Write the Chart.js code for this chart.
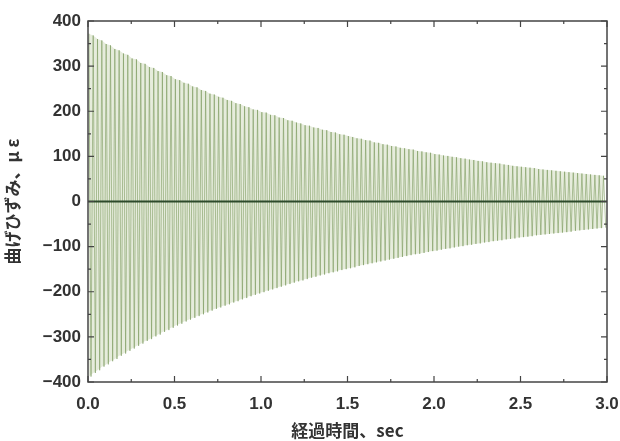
<!DOCTYPE html>
<html>
<head>
<meta charset="utf-8">
<script src="https://cdn.jsdelivr.net/npm/chart.js@4.4.1/dist/chart.umd.min.js"></script>
<style>
  html, body { margin: 0; padding: 0; background: #fff; }
  #wrap { width: 620px; height: 441px; }
</style>
</head>
<body>
<div id="wrap"><canvas id="myChart" width="620" height="441"></canvas></div>
<script>
// peak / trough of each cycle (micro strain)
const peaks = [372, 368, 360, 357, 349, 346, 338, 335, 328, 325,
    317, 315, 307, 305, 298, 296, 289, 287, 280, 278,
    271, 269, 263, 261, 255, 253, 247, 245, 239, 237,
    232, 230, 225, 223, 218, 216, 211, 209, 204, 203,
    198, 197, 192, 191, 186, 185, 180, 179, 175, 173,
    169, 168, 164, 163, 159, 158, 154, 153, 149, 148,
    145, 143, 140, 139, 136, 135, 131, 130, 127, 126,
    123, 122, 119, 118, 116, 115, 112, 111, 109, 108,
    105, 104, 102, 101, 99, 98, 96, 95, 93, 92,
    90, 89, 87, 86, 85, 84, 82, 81, 79, 78,
    77, 76, 75, 74, 72, 71, 70, 69, 68, 67,
    66, 65, 64, 63, 62, 61, 60, 59, 58, 57]
const troughs = [-388, -380, -374, -366, -361, -354, -349, -342, -337, -331,
    -326, -320, -315, -309, -305, -299, -295, -289, -285, -280,
    -275, -271, -266, -262, -258, -254, -250, -246, -242, -238,
    -235, -231, -228, -224, -221, -217, -214, -210, -207, -204,
    -201, -198, -195, -192, -189, -186, -183, -180, -177, -175,
    -172, -169, -167, -164, -162, -159, -157, -155, -152, -150,
    -148, -146, -143, -141, -139, -137, -135, -133, -131, -129,
    -127, -125, -123, -121, -119, -117, -116, -114, -112, -110,
    -109, -107, -105, -104, -102, -100, -99, -97, -96, -94,
    -93, -91, -90, -88, -87, -86, -84, -83, -82, -80,
    -79, -78, -77, -75, -74, -73, -72, -71, -70, -69,
    -68, -67, -65, -64, -63, -62, -61, -60, -59, -58]

const firstPeakTime = 0.005   // sec
const cyclePeriod = 0.025     // sec, time between peaks
const baseTimes = [0, 3.0]
const baseValues = [0, 0]

const xTickLabels = ['0.0', '0.5', '1.0', '1.5', '2.0', '2.5', '3.0']
const yTickLabels = ['-400', '-300', '-200', '-100', '0', '100', '200', '300', '400']

// build point lists for the library
let wave = []
let upper = []
let lower = []
for (let i = 0; i < peaks.length; i++) {
    let tp = firstPeakTime + i * cyclePeriod
    let tt = tp + cyclePeriod / 2
    wave.push({ x: tp, y: peaks[i] })
    wave.push({ x: tt, y: troughs[i] })
    upper.push({ x: tp, y: peaks[i] })
    lower.push({ x: tp, y: troughs[i] })
}
let base = baseTimes.map((t, i) => ({ x: t, y: baseValues[i] }))

// frame + inward ticks on all four sides
const framePlugin = {
    id: 'frame',
    afterDatasetsDraw(chart) {
        const ctx = chart.ctx
        const a = chart.chartArea
        const xs = chart.scales.x
        const ys = chart.scales.y
        ctx.save()
        ctx.strokeStyle = '#444'
        ctx.lineWidth = 1.5
        ctx.strokeRect(a.left, a.top, a.right - a.left, a.bottom - a.top)
        ctx.lineWidth = 1.2
        for (let v = 0; v <= 3.0001; v += 0.25) {
            let px = xs.getPixelForValue(v)
            let len = (Math.round(v * 4) % 2 === 0) ? 6 : 3
            ctx.beginPath()
            ctx.moveTo(px, a.bottom); ctx.lineTo(px, a.bottom - len)
            ctx.moveTo(px, a.top); ctx.lineTo(px, a.top + len)
            ctx.stroke()
        }
        for (let v = -400; v <= 400; v += 50) {
            let py = ys.getPixelForValue(v)
            let len = (v % 100 === 0) ? 6 : 3
            ctx.beginPath()
            ctx.moveTo(a.left, py); ctx.lineTo(a.left + len, py)
            ctx.moveTo(a.right, py); ctx.lineTo(a.right - len, py)
            ctx.stroke()
        }
        ctx.restore()
    }
}

const tickFont = { family: 'Liberation Sans', size: 17, weight: 'bold' }
const titleFont = { family: 'Noto Sans CJK JP', size: 17, weight: 'bold' }

let ctx = document.getElementById('myChart').getContext('2d')
let myChart = new Chart(ctx, {
    type: 'line',
    data: {
        datasets: [
            {
                data: upper,
                borderWidth: 0,
                pointRadius: 0,
                backgroundColor: '#e6ecdc',
                fill: '+1',
                tension: 0,
                order: 4
            },
            {
                data: lower,
                borderWidth: 0,
                pointRadius: 0,
                fill: false,
                tension: 0,
                order: 3
            },
            {
                data: wave,
                borderColor: 'rgba(125, 155, 95, 0.6)',
                borderWidth: 1,
                pointRadius: 0,
                fill: false,
                tension: 0,
                order: 2
            },
            {
                data: base,
                borderColor: '#2d4a2b',
                borderWidth: 2,
                pointRadius: 0,
                fill: false,
                order: 1
            }
        ]
    },
    options: {
        responsive: false,
        animation: false,
        layout: { padding: { top: 21, right: 13, left: 2, bottom: 0 } },
        plugins: {
            legend: { display: false },
            tooltip: { enabled: false }
        },
        scales: {
            x: {
                type: 'linear',
                min: 0,
                max: 3.0,
                grid: { display: false, drawTicks: false },
                border: { display: false },
                afterBuildTicks(scale) {
                    scale.ticks = xTickLabels.map(s => ({ value: parseFloat(s) }))
                },
                ticks: {
                    padding: 12,
                    color: '#333',
                    font: tickFont,
                    maxRotation: 0,
                    callback: (v, i) => xTickLabels[i]
                },
                title: {
                    display: true,
                    text: '経過時間、sec',
                    color: '#333',
                    font: titleFont,
                    padding: { top: 0, bottom: 0 }
                },
                afterFit(scale) {
                    scale.height = 59
                    scale.paddingLeft = 0
                    scale.paddingRight = 0
                }
            },
            y: {
                min: -400,
                max: 400,
                grid: { display: false, drawTicks: false },
                border: { display: false },
                afterBuildTicks(scale) {
                    scale.ticks = yTickLabels.map(s => ({ value: parseFloat(s) }))
                },
                ticks: {
                    padding: 7,
                    color: '#333',
                    font: tickFont,
                    callback: (v, i) => yTickLabels[i].replace('-', '\u2212')
                },
                title: {
                    display: true,
                    text: '曲げひずみ、μ ε',
                    color: '#333',
                    font: titleFont,
                    padding: { top: 0, bottom: 4 }
                },
                afterFit(scale) {
                    scale.width = 86
                    scale.paddingTop = 0
                    scale.paddingBottom = 0
                }
            }
        }
    },
    plugins: [framePlugin]
})
</script>
</body>
</html>
